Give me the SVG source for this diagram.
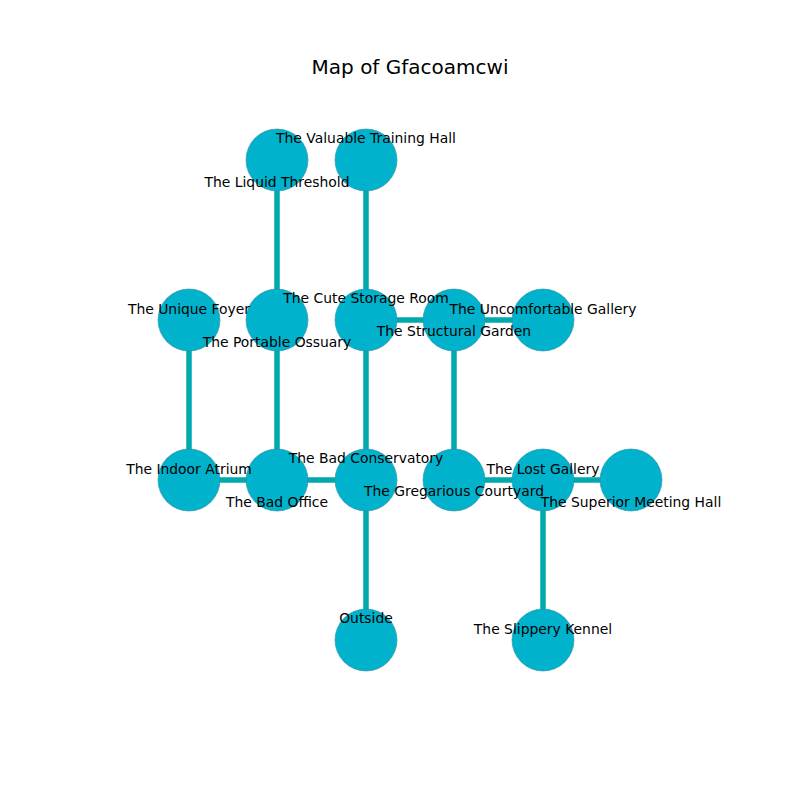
<svg xmlns="http://www.w3.org/2000/svg" width="800" height="800" viewBox="0 0 800 800">
<style>
.e{stroke:#00a9ad;stroke-width:5.5;fill:none}
.n{fill:#00b2cc;stroke:#2f8f9f;stroke-width:0.6}
.t{font-family:"DejaVu Sans",sans-serif;font-size:13.9px;fill:#000;text-anchor:middle;dominant-baseline:central}
.title{font-family:"DejaVu Sans",sans-serif;font-size:20px;fill:#000;text-anchor:middle;dominant-baseline:central}
</style>
<rect width="800" height="800" fill="#fff"/>
<text class="title" x="410" y="67">Map of Gfacoamcwi</text>
<g id="connectors">
<line class="e" x1="277" y1="160" x2="277" y2="320"/>
<line class="e" x1="366" y1="160" x2="366" y2="320"/>
<line class="e" x1="189" y1="320" x2="189" y2="480"/>
<line class="e" x1="277" y1="320" x2="277" y2="480"/>
<line class="e" x1="366" y1="320" x2="366" y2="480"/>
<line class="e" x1="366" y1="320" x2="454" y2="320"/>
<line class="e" x1="454" y1="320" x2="543" y2="320"/>
<line class="e" x1="454" y1="320" x2="454" y2="480"/>
<line class="e" x1="189" y1="480" x2="277" y2="480"/>
<line class="e" x1="277" y1="480" x2="366" y2="480"/>
<line class="e" x1="454" y1="480" x2="543" y2="480"/>
<line class="e" x1="543" y1="480" x2="631" y2="480"/>
<line class="e" x1="543" y1="480" x2="543" y2="640"/>
<line class="e" x1="366" y1="480" x2="366" y2="640"/>
</g>
<g id="n-liquid"><circle class="n" cx="277" cy="160" r="31"/></g>
<g id="n-valuable"><circle class="n" cx="366" cy="160" r="31"/></g>
<g id="n-unique"><circle class="n" cx="189" cy="320" r="31"/></g>
<g id="n-portable"><circle class="n" cx="277" cy="320" r="31"/></g>
<g id="n-cute"><circle class="n" cx="366" cy="320" r="31"/></g>
<g id="n-structural"><circle class="n" cx="454" cy="320" r="31"/></g>
<g id="n-uncomfortable"><circle class="n" cx="543" cy="320" r="31"/></g>
<g id="n-indoor"><circle class="n" cx="189" cy="480" r="31"/></g>
<g id="n-badoffice"><circle class="n" cx="277" cy="480" r="31"/></g>
<g id="n-badconservatory"><circle class="n" cx="366" cy="480" r="31"/></g>
<g id="n-gregarious"><circle class="n" cx="454" cy="480" r="31"/></g>
<g id="n-lost"><circle class="n" cx="543" cy="480" r="31"/></g>
<g id="n-superior"><circle class="n" cx="631" cy="480" r="31"/></g>
<g id="n-outside"><circle class="n" cx="366" cy="640" r="31"/></g>
<g id="n-slippery"><circle class="n" cx="543" cy="640" r="31"/></g>
<g id="labels">
<text class="t" x="366" y="138">The Valuable Training Hall</text>
<text class="t" x="277" y="182">The Liquid Threshold</text>
<text class="t" x="366" y="298">The Cute Storage Room</text>
<text class="t" x="189" y="309">The Unique Foyer</text>
<text class="t" x="277" y="342">The Portable Ossuary</text>
<text class="t" x="543" y="309">The Uncomfortable Gallery</text>
<text class="t" x="454" y="331">The Structural Garden</text>
<text class="t" x="189" y="469">The Indoor Atrium</text>
<text class="t" x="277" y="502">The Bad Office</text>
<text class="t" x="366" y="458">The Bad Conservatory</text>
<text class="t" x="454" y="491">The Gregarious Courtyard</text>
<text class="t" x="543" y="469">The Lost Gallery</text>
<text class="t" x="631" y="502">The Superior Meeting Hall</text>
<text class="t" x="366" y="618">Outside</text>
<text class="t" x="543" y="629">The Slippery Kennel</text>
</g>
</svg>
